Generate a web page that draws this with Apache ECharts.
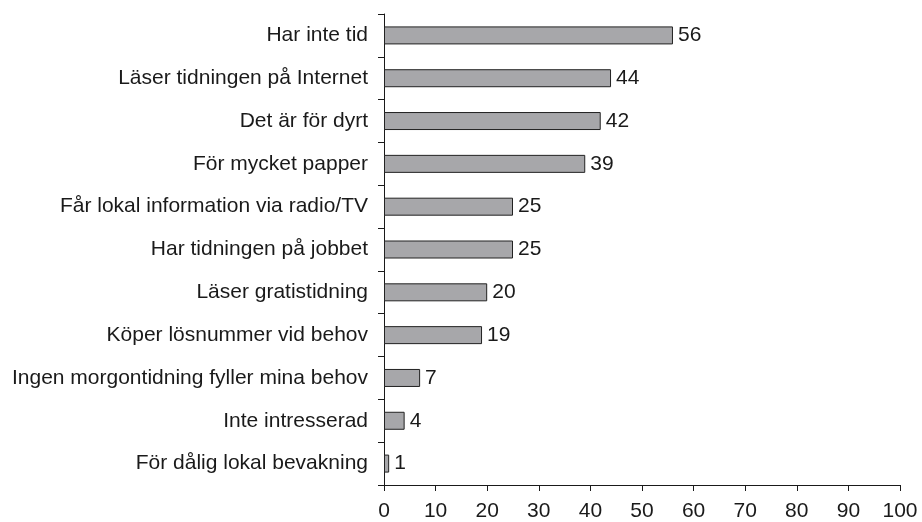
<!DOCTYPE html>
<html>
<head>
    <meta charset="utf-8">
    <script src="https://cdn.jsdelivr.net/npm/echarts@6/dist/echarts.min.js"></script>
</head>
<body style="margin:0;background:#fff">
    <div id="main" style="width: 922px;height:522px;"></div>
    <script type="text/javascript">
        // svar, uppifrån och ned
        var categories = [
            'Har inte tid',
            'Läser tidningen på Internet',
            'Det är för dyrt',
            'För mycket papper',
            'Får lokal information via radio/TV',
            'Har tidningen på jobbet',
            'Läser gratistidning',
            'Köper lösnummer vid behov',
            'Ingen morgontidning fyller mina behov',
            'Inte intresserad',
            'För dålig lokal bevakning'
        ];
        var values = [56, 44, 42, 39, 25, 25, 20, 19, 7, 4, 1];
        var xTicks = [0, 10, 20, 30, 40, 50, 60, 70, 80, 90, 100];

        var font = 'Liberation Sans, Arial, sans-serif';

        var option = {
            animation: false,
            grid: {
                left: 384,
                right: 22,
                top: 14,
                bottom: 37
            },
            xAxis: {
                type: 'value',
                min: xTicks[0],
                max: xTicks[xTicks.length - 1],
                interval: 10,
                splitLine: {show: false},
                axisLine: {show: true, lineStyle: {color: '#1a1a1a', width: 1}},
                axisTick: {show: true, length: 6, lineStyle: {color: '#1a1a1a'}},
                axisLabel: {
                    color: '#1a1a1a',
                    fontFamily: font,
                    fontSize: 21,
                    margin: 16
                }
            },
            yAxis: {
                type: 'category',
                inverse: true,
                data: categories,
                axisLine: {show: true, lineStyle: {color: '#1a1a1a', width: 1}},
                axisTick: {show: true, length: 6, lineStyle: {color: '#1a1a1a'}},
                axisLabel: {
                    color: '#1a1a1a',
                    fontFamily: font,
                    fontSize: 21,
                    margin: 16
                }
            },
            series: [
                {
                    type: 'bar',
                    data: values,
                    barWidth: 18,
                    itemStyle: {
                        color: '#a7a7aa',
                        borderColor: '#222',
                        borderWidth: 1
                    },
                    label: {
                        show: true,
                        position: 'right',
                        distance: 5,
                        color: '#1a1a1a',
                        fontFamily: font,
                        fontSize: 21
                    }
                }
            ]
        };

        var myChart = echarts.init(document.getElementById('main'));
        myChart.setOption(option);
    </script>
</body>
</html>
